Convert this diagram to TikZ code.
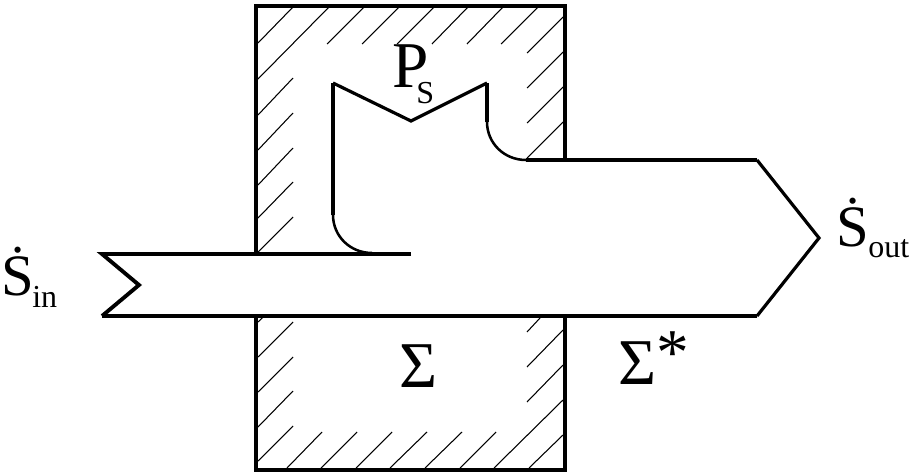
\documentclass[tikz,border=0pt]{standalone}
\usepackage{fontspec}
\setmainfont{Liberation Serif}
\begin{document}
\begin{tikzpicture}[
  x=0.75pt, y=-0.75pt,
  wall/.style={line width=2.9pt, line join=miter},
  curve/.style={line width=1.9pt},
  slant/.style={line width=2.4pt, line join=miter},
  hatch/.style={line width=0.8pt},
  biglabel/.style={inner sep=0pt, anchor=base west, font=\fontsize{49}{49}\selectfont},
  flowlabel/.style={inner sep=0pt, anchor=base west, font=\fontsize{44}{44}\selectfont},
  sublabel/.style={inner sep=0pt, anchor=base west, font=\fontsize{24}{24}\selectfont}
]
\useasboundingbox (0,0) rectangle (912,474);
% hatching
\foreach \xa/\ya/\xb/\yb in {258/43/293/7, 258/79/329/7, 327/44/364/7, 362/44/399/7, 397/44/434/7, 432/44/468/7, 467/44/503/7, 501/44/538/7,
  527/53/563/17, 527/88/563/52, 527/123/563/87, 527/158/563/122,
  258/115/293/78, 258/150/293/113, 258/185/293/148, 258/218/293/182, 258/252/293/217,
  258/322/263/317, 258/357/293/322, 258/392/293/357, 258/427/293/391, 258/461/293/426,
  287/468/322/432, 321/468/357/432, 356/468/392/432, 390/468/427/432, 425/468/462/432, 460/468/496/432, 494/468/563/400, 529/468/563/435,
  527/402/563/365, 527/367/563/330, 527/332/540/318}
  \draw[hatch] (\xa,\ya) -- (\xb,\yb);
% walls
\draw[wall] (256,254) -- (256,6) -- (565,6) -- (565,160);
\draw[wall] (256,316) -- (256,470) -- (565,470) -- (565,316);
% stream
\draw[wall] (411,254) -- (372,254);
\draw[curve] (372,253) .. controls (350,253) and (333,236) .. (333,215);
\draw[wall] (333,215) -- (333,83);
\draw[slant] (333,83) -- (411,121) -- (487,83);
\draw[wall] (487,83) -- (487,122);
\draw[curve] (487,122) .. controls (487,143) and (504,160) .. (526,160);
\draw[wall] (526,160) -- (757,160);
\draw[slant] (757,160) -- (819,238) -- (757,316);
\draw[wall] (757,316) -- (102,316);
\draw[wall] (102,316) -- (139,285) -- (102,254) -- (372,254);
% labels
\node[biglabel] (ps) at (392,88) {P};
\node[sublabel] (pssub) at (416,104) {S};
\node[biglabel] (sigma) at (399,387) {Σ};
\node[biglabel] (sigmastar) at (618,384) {Σ\raisebox{7pt}{*}};
\node[flowlabel] (sin) at (1,295) {\.S};
\node[sublabel] (sinsub) at (32,307) {in};
\node[flowlabel] (sout) at (836,246) {\.S};
\node[sublabel] (soutsub) at (868,257) {out};
\end{tikzpicture}
\end{document}
